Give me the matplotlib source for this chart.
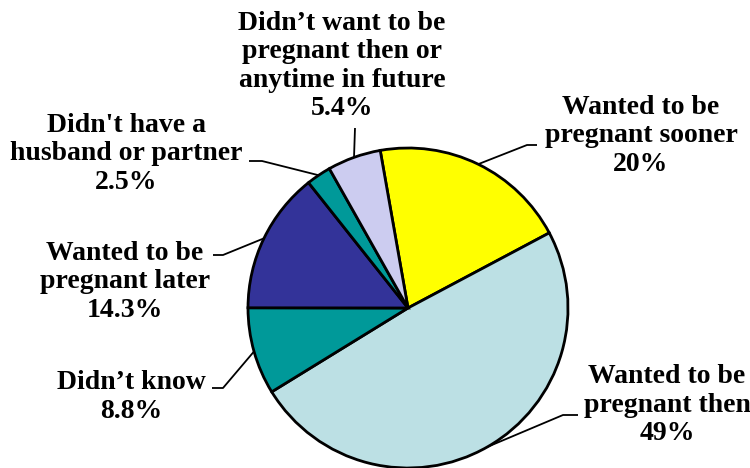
import numpy as np
import matplotlib.pyplot as plt

labels = ["Wanted to be\npregnant sooner", "Wanted to be\npregnant then", "Didn’t know",
          "Wanted to be\npregnant later", "Didn't have a\nhusband or partner",
          "Didn’t want to be\npregnant then or\nanytime in future"]
values = [20, 49, 8.8, 14.3, 2.5, 5.4]
value_text = ["20%", "49%", "8.8%", "14.3%", "2.5%", "5.4%"]
colors = ["#FFFF00", "#BCE0E4", "#009999", "#333399", "#009999", "#CCCCF0"]

# pixel layout helpers: pie centre at (408, 308), radius 160 px
W, H = 750, 468
CX, CY, R = 408, 308, 160

def p2d(px, py):
    return (px - CX) / R, (CY - py) / R

fig = plt.figure(figsize=(7.5, 4.68), dpi=100)
ax = fig.add_axes([0, 0, 1, 1])

wedges, _ = ax.pie(values, colors=colors, startangle=100, counterclock=False,
                   radius=1.0, center=(0, 0),
                   wedgeprops=dict(edgecolor="black", linewidth=2))
ax.set_aspect("auto")
ax.set_xlim(-CX / R, (W - CX) / R)
ax.set_ylim(-(H - CY) / R, CY / R)
ax.axis("off")

# label centre (px) and leader elbow / end (px)
text_pos = [(641, 136), (667, 405), (131, 397), (125, 282), (126, 154), (342, 66)]
elbows = [((537, 145), (527, 145)), ((578, 415), (563, 415)), ((212, 388), (223, 388)),
          ((213, 255), (223, 255)), ((249, 161), (262, 161)), ((355, 128), (355, 128))]

for w, lab, vt, tp, (e1, e2) in zip(wedges, labels, value_text, text_pos, elbows):
    mid = np.deg2rad((w.theta1 + w.theta2) / 2)
    edge = (np.cos(mid), np.sin(mid))
    a, b = p2d(*e1), p2d(*e2)
    ax.plot([a[0], b[0], edge[0]], [a[1], b[1], edge[1]], color="black", lw=1.3,
            solid_capstyle="butt", zorder=0)
    x, y = p2d(*tp)
    ax.text(x, y, lab + "\n" + vt, ha="center", va="center", fontsize=20,
            fontweight="bold", family="Liberation Serif", linespacing=1.17)

fig.savefig("out.png", dpi=100)
